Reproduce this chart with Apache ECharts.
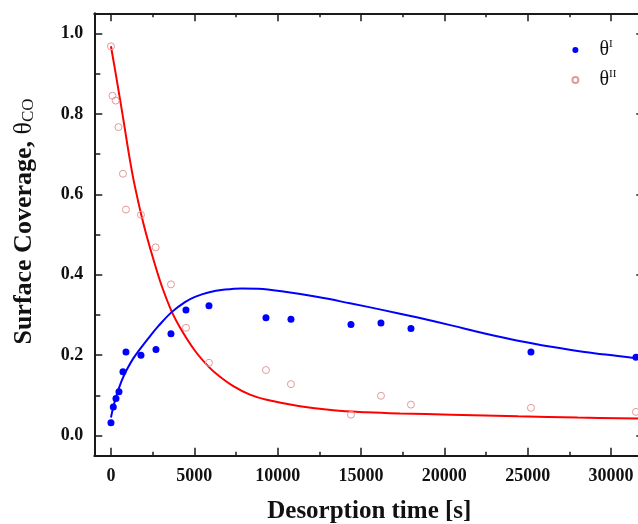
<!DOCTYPE html>
<html>
<head>
<meta charset="utf-8">
<script src="https://cdn.jsdelivr.net/npm/echarts@6/dist/echarts.min.js"></script>
<style>
html,body{margin:0;padding:0;background:#fff;}
#chart{width:638px;height:524px;}
</style>
</head>
<body>
<div id="chart"></div>
<script>
// ---- data ----
const thetaI_points = [[0,0.032],[140,0.071],[300,0.092],[480,0.109],[720,0.159],[900,0.208],[1800,0.200],[2700,0.214],[3600,0.253],[4500,0.312],[5880,0.323],[9300,0.293],[10800,0.289],[14400,0.276],[16200,0.280],[18000,0.266],[25200,0.208],[31500,0.195]];
const thetaII_points = [[0,0.968],[90,0.845],[280,0.833],[450,0.767],[720,0.651],[900,0.562],[1800,0.549],[2680,0.468],[3600,0.376],[4500,0.268],[5880,0.181],[9300,0.163],[10800,0.128],[14400,0.052],[16200,0.099],[18000,0.077],[25200,0.069],[31500,0.059]];
const thetaI_fit = [[0,0.045],[140,0.071],[340,0.101],[640,0.136],[940,0.163],[1340,0.192],[1740,0.215],[2240,0.242],[2840,0.272],[3640,0.307],[4440,0.332],[5040,0.345],[5840,0.356],[6840,0.363],[7840,0.366],[8840,0.365],[10340,0.358],[12340,0.345],[14340,0.329],[16340,0.312],[18340,0.294],[20420,0.274],[22420,0.254],[24420,0.236],[26420,0.221],[28420,0.208],[30420,0.198],[32000,0.190]];
const thetaII_fit = [[0,0.968],[370,0.879],[740,0.787],[1040,0.709],[1340,0.639],[1640,0.581],[1800,0.552],[2140,0.497],[2540,0.439],[3040,0.373],[3640,0.309],[4240,0.262],[5040,0.211],[5840,0.172],[6340,0.153],[7340,0.123],[8340,0.102],[9340,0.089],[11340,0.073],[13340,0.063],[15340,0.058],[17340,0.055],[20420,0.052],[24420,0.048],[28000,0.045],[32000,0.042]];
const xMajorTicks = [0,5000,10000,15000,20000,25000,30000];
const xMinorTicks = [2500,7500,12500,17500,22500,27500];
const yMajorTicks = [0,0.2,0.4,0.6,0.8,1.0];
const yMinorTicks = [0.1,0.3,0.5,0.7,0.9];
const legendNames = ['θI','θII'];
const xTitle = 'Desorption time [s]';

const SERIF = "'Liberation Serif', 'DejaVu Serif', serif";
const AX = '#1a1a1a';

function xAx(pos, ticks, len, main, label) {
  return {
    type: 'value', position: pos, min: -1000, max: 32000,
    axisLine: {show: main, onZero: false, lineStyle: {color: AX, width: 2}},
    axisTick: {show: true, inside: true, length: len, customValues: ticks, lineStyle: {color: AX, width: 1.5}},
    axisLabel: label ? {show: true, customValues: ticks, margin: 12, color: '#111', fontFamily: SERIF, fontWeight: 'bold', fontSize: 18, formatter: v => String(v)} : {show: false},
    splitLine: {show: false}
  };
}
function yAx(pos, ticks, len, main, label) {
  return {
    type: 'value', position: pos, min: -0.05, max: 1.05,
    axisLine: {show: main, onZero: false, lineStyle: {color: AX, width: 2}},
    axisTick: {show: true, inside: true, length: len, customValues: ticks, lineStyle: {color: AX, width: 1.5}},
    axisLabel: label ? {show: true, customValues: ticks, margin: 11, color: '#111', fontFamily: SERIF, fontWeight: 'bold', fontSize: 18, formatter: v => v.toFixed(1)} : {show: false},
    splitLine: {show: false}
  };
}

const xb = xAx('bottom', xMajorTicks, 8, true, true);
xb.name = xTitle;
xb.nameLocation = 'middle';
xb.nameGap = 43;
xb.nameTextStyle = {fontFamily: SERIF, fontWeight: 'bold', fontSize: 25, color: '#111'};

const yl = yAx('left', yMajorTicks, 8, true, true);
yl.name = '{a|Surface Coverage, }{t|θ}{b|CO}';
yl.nameLocation = 'middle';
yl.nameGap = 57;
yl.nameTextStyle = {
  padding: [0, 0, 0, 26],
  rich: {
    a: {fontFamily: SERIF, fontWeight: 'bold', fontSize: 26, color: '#111'},
    t: {fontFamily: SERIF, fontSize: 26, color: '#111'},
    b: {fontFamily: SERIF, fontSize: 17, color: '#111', verticalAlign: 'bottom', padding: [9, 0, 0, 0]}
  }
};

const chart = echarts.init(document.getElementById('chart'), null, {renderer: 'canvas'});
chart.setOption({
  backgroundColor: '#fff',
  animation: false,
  grid: {left: 94.3, top: 13.3, width: 550, height: 442.4, containLabel: false, outerBoundsMode: 'none'},
  xAxis: [xb, xAx('bottom', xMinorTicks, 4, false, false), xAx('top', xMajorTicks, 8, true, false), xAx('top', xMinorTicks, 4, false, false)],
  yAxis: [yl, yAx('left', yMinorTicks, 6, false, false), yAx('right', yMajorTicks, 8, true, false), yAx('right', yMinorTicks, 6, false, false)],
  legend: {
    data: legendNames,
    orient: 'vertical',
    left: 566.4, top: 34,
    itemWidth: 38, itemHeight: 6, itemGap: 9,
    formatter: n => n === 'θI' ? '{t|θ}{s|I}' : '{t|θ}{s|II}',
    textStyle: {
      rich: {
        t: {fontFamily: SERIF, fontSize: 20, color: '#111', lineHeight: 22},
        s: {fontFamily: SERIF, fontSize: 11, color: '#111', verticalAlign: 'top'}
      }
    }
  },
  series: [
    {name: 'fitII', type: 'line', data: thetaII_fit, smooth: 0.4, showSymbol: false, symbol: 'none', lineStyle: {color: '#ff0000', width: 2}, z: 2},
    {name: 'fitI', type: 'line', data: thetaI_fit, smooth: 0.4, showSymbol: false, symbol: 'none', lineStyle: {color: '#0000ff', width: 2}, z: 2},
    {name: 'θII', type: 'scatter', data: thetaII_points, symbol: 'circle', symbolSize: 7, itemStyle: {color: 'rgba(255,255,255,0)', borderColor: '#e49a9a', borderWidth: 1, opacity: 1}, z: 3},
    {name: 'θI', type: 'scatter', data: thetaI_points, symbol: 'circle', symbolSize: 7, itemStyle: {color: '#0000ff', opacity: 1}, z: 4}
  ]
});
</script>
</body>
</html>
